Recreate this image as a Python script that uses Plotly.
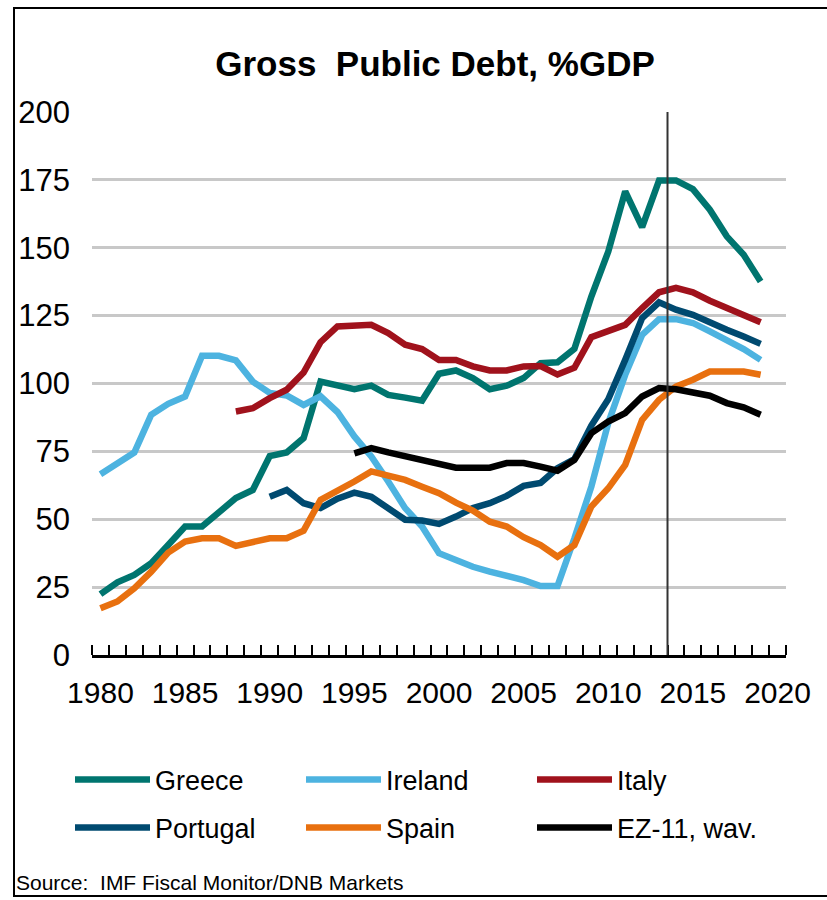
import plotly.graph_objects as go

years = list(range(1980, 2020))

greece = [22.4, 26.8, 29.5, 33.8, 40.5, 47.3, 47.3, 52.2, 57.8, 60.8,
          73.3, 74.6, 79.9, 100.7, 99.5, 97.9, 99.2, 95.8, 94.8, 93.7,
          103.6, 104.8, 102.0, 97.9, 99.2, 102.0, 107.5, 107.8, 112.8, 132.0,
          148.6, 170.8, 157.6, 174.8, 174.8, 171.6, 164.0, 154.2, 147.4, 137.6]
ireland = [66.6, 70.7, 74.6, 88.5, 92.5, 95.2, 110.2, 110.2, 108.5, 100.7,
           96.5, 95.6, 92.1, 95.3, 89.5, 80.5, 73.1, 63.9, 54.1, 47.3,
           37.5, 35.0, 32.5, 30.7, 29.2, 27.6, 25.4, 25.4, 43.0, 62.0,
           85.5, 103.2, 117.9, 123.7, 123.7, 122.3, 119.2, 116.1, 112.7, 108.7]
italy = [None] * 8 + [89.7, 90.9,
         94.6, 97.7, 104.0, 115.2, 121.0, 121.6, 121.6, 118.6, 114.3, 112.7,
         108.7, 108.7, 106.3, 104.8, 104.8, 106.3, 106.4, 103.3, 105.8, 117.1,
         119.5, 121.6, 127.8, 133.6, 135.2, 133.6, 130.5, 127.8, 125.3, 122.6]
portugal = [None] * 10 + [
    58.3, 60.8, 55.9, 54.1, 57.6, 59.8, 58.3, 54.1, 49.8, 49.5,
    48.3, 51.0, 54.1, 55.9, 58.6, 62.3, 63.4, 68.8, 72.2, 84.5,
    94.2, 108.7, 124.1, 129.9, 127.2, 125.3, 122.3, 119.8, 117.3, 114.6]
spain = [17.2, 19.7, 24.6, 30.7, 37.7, 41.8, 43.0, 43.0, 40.2, 41.7,
         43.0, 43.0, 45.8, 57.1, 60.3, 63.9, 67.6, 66.3, 64.5, 62.0,
         59.6, 56.1, 53.2, 49.1, 47.3, 43.4, 40.5, 36.2, 40.5, 54.7,
         61.4, 70.0, 86.6, 94.0, 98.9, 101.4, 104.4, 104.4, 104.4, 103.2]
ez11 = [None] * 15 + [74.3, 76.2, 74.6, 73.1, 71.6,
        70.0, 69.0, 69.0, 69.0, 70.7, 70.7, 69.4, 67.9, 71.9, 81.7,
        86.0, 89.1, 95.2, 98.3, 97.9, 96.7, 95.5, 92.8, 91.2, 88.5]

series_names = ["Greece", "Ireland", "Italy", "Portugal", "Spain", "EZ-11, wav."]
series_values = [greece, ireland, italy, portugal, spain, ez11]
series_colors = ["#00756F", "#4DB3E0", "#A0121C", "#004A70", "#E8700F", "#000000"]
series_legend = ["legend", "legend", "legend", "legend2", "legend2", "legend2"]

x_tick_vals = [1980, 1985, 1990, 1995, 2000, 2005, 2010, 2015, 2020]
x_tick_text = [str(v) for v in x_tick_vals]
y_tick_vals = [0, 25, 50, 75, 100, 125, 150, 175, 200]
forecast_break = 2013.5

FONT = "Liberation Sans, Arial, sans-serif"

fig = go.Figure()
for name, vals, col, lg in zip(series_names, series_values, series_colors, series_legend):
    fig.add_trace(go.Scatter(x=years, y=vals, name=name, mode="lines",
                             line=dict(color=col, width=6.5),
                             connectgaps=False, legend=lg))

W, H = 827, 900
L, R, T, B = 92, 41, 112, 245
pw, ph = W - L - R, H - T - B

def px_x(p):
    return (p - L) / pw

def px_y(p):
    return (H - B - p) / ph

fig.add_shape(type="line", xref="x", yref="y", x0=forecast_break, x1=forecast_break,
              y0=0, y1=201, line=dict(color="#333333", width=2))
fig.add_shape(type="rect", xref="paper", yref="paper",
              x0=px_x(14), x1=px_x(840), y0=px_y(896), y1=px_y(8),
              line=dict(color="#000000", width=2), layer="above")

fig.add_annotation(text="Source:  IMF Fiscal Monitor/DNB Markets", xref="paper", yref="paper",
                   x=px_x(14), y=px_y(882), xanchor="left", yanchor="middle",
                   showarrow=False, font=dict(family=FONT, size=21, color="#000000"))

legend_common = dict(orientation="h", xanchor="left", yanchor="middle",
                     font=dict(family=FONT, size=27, color="#000000"),
                     itemwidth=75, entrywidth=141, entrywidthmode="pixels",
                     bgcolor="rgba(0,0,0,0)")

fig.update_layout(
    width=W, height=H,
    margin=dict(l=L, r=R, t=T, b=B, autoexpand=False),
    paper_bgcolor="white", plot_bgcolor="white",
    font=dict(family=FONT, color="#000000"),
    title=dict(text="<b>Gross  Public Debt, %GDP</b>", xref="container", x=435 / W,
               xanchor="center", y=1 - 64 / H, yanchor="middle",
               font=dict(family=FONT, size=35, color="#000000")),
    showlegend=True,
    legend=dict(x=px_x(70), y=px_y(780), **legend_common),
    legend2=dict(x=px_x(70), y=px_y(828), **legend_common),
)

fig.update_xaxes(range=[1979.5, 2020.5], tickmode="array", tickvals=x_tick_vals,
                 ticktext=x_tick_text, ticks="", showgrid=False, zeroline=False,
                 showline=True, linecolor="#000000", linewidth=2.5, automargin=False,
                 tickfont=dict(family=FONT, size=30, color="#000000"),
                 ticklabelstandoff=9,
                 minor=dict(tick0=1979.5, dtick=1, ticks="inside", ticklen=10,
                            tickwidth=2, tickcolor="#000000", showgrid=False))
fig.update_yaxes(range=[0, 200], tickmode="array", tickvals=y_tick_vals,
                 ticks="", showgrid=True, gridcolor="#C8C8C8", gridwidth=2.5,
                 zeroline=False, showline=False, automargin=False,
                 tickfont=dict(family=FONT, size=31, color="#000000"),
                 ticklabelstandoff=21)

fig.write_html("out.html", config={"displayModeBar": False},
               post_script="document.body.style.margin='0';")
